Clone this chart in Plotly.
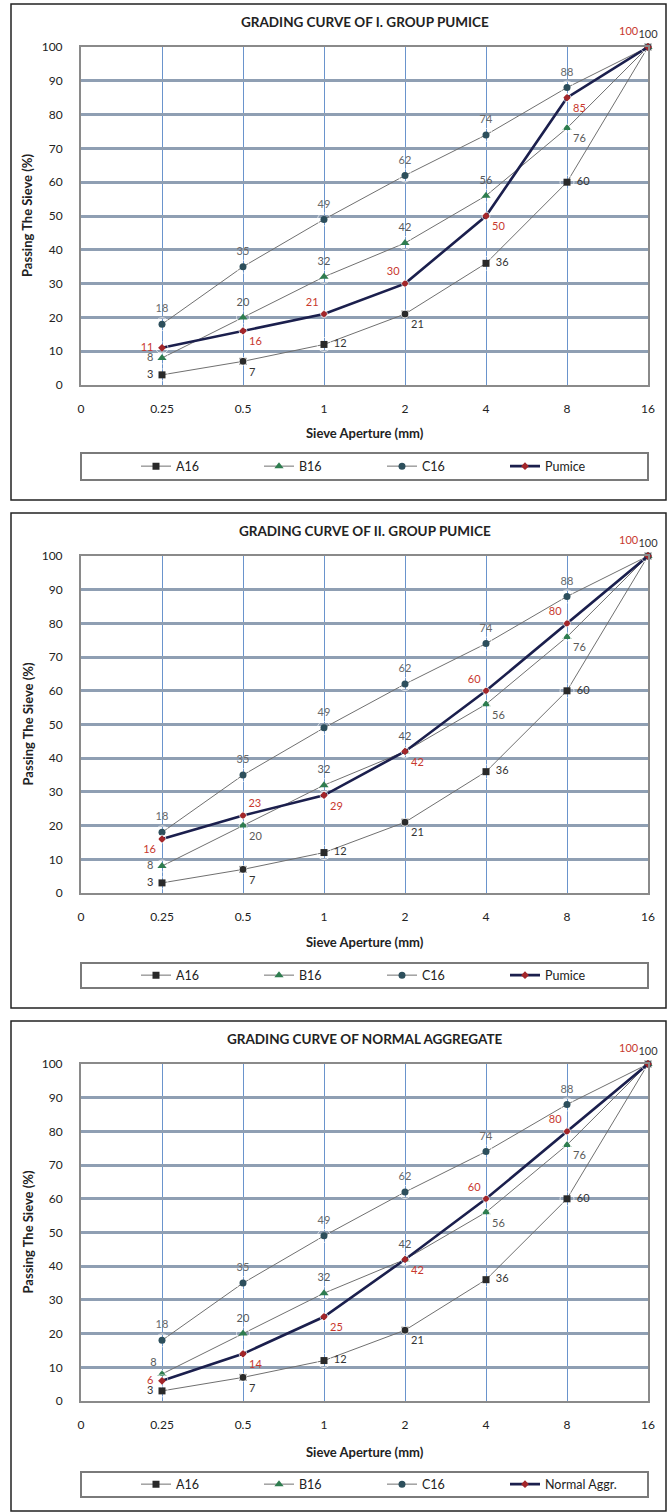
import plotly.graph_objects as go

W, H = 667, 1512

# ---------------- data ----------------
axis_labels = ["0", "0.25", "0.5", "1", "2", "4", "8", "16"]
sieves = ["0.25", "0.5", "1", "2", "4", "8", "16"]
a16 = [3, 7, 12, 21, 36, 60, 100]
b16 = [8, 20, 32, 42, 56, 76, 100]
c16 = [18, 35, 49, 62, 74, 88, 100]
pumice_1 = [11, 16, 21, 30, 50, 85, 100]
pumice_2 = [16, 23, 29, 42, 60, 80, 100]
normal_aggr = [6, 14, 25, 42, 60, 80, 100]
titles = ["GRADING CURVE OF I. GROUP PUMICE",
          "GRADING CURVE OF II. GROUP PUMICE",
          "GRADING CURVE OF NORMAL AGGREGATE"]
sample_names = ["Pumice", "Pumice", "Normal Aggr."]
samples = [pumice_1, pumice_2, normal_aggr]

# label placement (style only)
pos_a = ["middle left", "bottom right", "middle right", "bottom right", "middle right", "middle right", "top center"]
pos_c = ["top center"] * 7
pos_b = [
    ["middle left", "top center", "top center", "top center", "top center", "bottom right", "top center"],
    ["middle left", "bottom right", "top center", "top center", "bottom right", "bottom right", "top center"],
    ["top left", "top center", "top center", "top center", "bottom right", "bottom right", "top center"],
]
pos_s = [
    ["middle left", "bottom right", "top left", "top left", "bottom right", "bottom right", "top left"],
    ["bottom left", "top right", "bottom right", "bottom right", "top left", "top left", "top left"],
    ["middle left", "bottom right", "bottom right", "bottom right", "top left", "top left", "top left"],
]
# invisible-marker size that sets the label offset for each position
offset_size = {"middle left": 12, "middle right": 14, "top center": 13,
               "bottom right": 8, "bottom left": 8, "top left": 7, "top right": 7}

# ---------------- layout geometry (pixels) ----------------
PX_L, PX_R = 81, 648
panels = [
    dict(top=47, bottom=385, title=22, xtitle=433, leg=(453, 480), border=(4, 500)),
    dict(top=556, bottom=893, title=531, xtitle=942, leg=(963, 988), border=(513, 1008)),
    dict(top=1064, bottom=1401, title=1039, xtitle=1452, leg=(1472, 1497), border=(1021, 1511)),
]

def px(x):
    return x / W

def py(y):
    return 1 - y / H

FONT = "Lato, Open Sans, sans-serif"
LINE_GRAY = "#707070"

fig = go.Figure()
shapes = []
annotations = []

for i, p in enumerate(panels):
    n = "" if i == 0 else str(i + 1)
    xa, ya = "x" + n, "y" + n
    leg = "legend" + n

    series = [
        ("A16", a16, dict(symbol="square", size=7, color="#2a2a2a"), dict(color=LINE_GRAY, width=1),
         pos_a, "#333333", [str(v) for v in a16]),
        ("B16", b16, dict(symbol="triangle-up", size=8, color="#2e7d4f"), dict(color=LINE_GRAY, width=1),
         pos_b[i], "#595959", [str(v) for v in b16[:-1]] + [""]),
        ("C16", c16, dict(symbol="circle", size=7, color="#2d4f5c"), dict(color=LINE_GRAY, width=1),
         pos_c, "#6a6a6a", [str(v) for v in c16[:-1]] + [""]),
        (sample_names[i], samples[i], dict(symbol="diamond", size=6, color="#a3262a"),
         dict(color="#1b1f4d", width=2.6), pos_s[i], "#c8392e", [str(v) for v in samples[i]]),
    ]
    for k, (name, vals, mk, ln, tpos, tcol, txt) in enumerate(series):
        fig.add_trace(go.Scatter(
            x=sieves, y=vals, name=name, mode="lines+markers",
            marker=mk, line=ln, xaxis=xa, yaxis=ya, legend=leg, cliponaxis=False,
        ))
        sizes = [offset_size[t] for t in tpos]
        if k == 0:
            sizes[-1] = 8
        if k == 3:
            sizes[-1] = 14
        fig.add_trace(go.Scatter(
            x=sieves, y=vals, mode="markers+text", text=txt, textposition=tpos,
            textfont=dict(family=FONT, size=11, color=tcol),
            marker=dict(size=sizes, color="rgba(0,0,0,0)"),
            xaxis=xa, yaxis=ya, showlegend=False, cliponaxis=False, hoverinfo="skip",
        ))

    dom_x = [px(PX_L), px(PX_R)]
    dom_y = [py(p["bottom"]), py(p["top"])]
    fig.layout["xaxis" + n] = dict(
        domain=dom_x, anchor=ya, type="category", categoryorder="array",
        categoryarray=axis_labels, range=[0, 7], tickvals=axis_labels, ticktext=axis_labels,
        showgrid=True, gridcolor="#6a94cc", gridwidth=1,
        showline=True, linecolor="#8a8a8a", linewidth=2, mirror=True,
        ticks="", ticklabelstandoff=12, zeroline=False, automargin=False,
        tickfont=dict(family=FONT, size=12, color="#222222"), fixedrange=True,
    )
    fig.layout["yaxis" + n] = dict(
        domain=dom_y, anchor=xa, range=[0, 100], dtick=10, tick0=0,
        showgrid=True, gridcolor="#8f9fb3", gridwidth=2.5,
        showline=True, linecolor="#8a8a8a", linewidth=2, mirror=True,
        ticks="", ticklabelstandoff=14, zeroline=False, automargin=False,
        tickfont=dict(family=FONT, size=12, color="#222222"), fixedrange=True,
    )
    fig.layout[leg] = dict(
        orientation="h", x=px(136), xanchor="left",
        y=py((p["leg"][0] + p["leg"][1]) / 2), yanchor="middle",
        entrywidth=78, entrywidthmode="pixels", itemwidth=30,
        bgcolor="rgba(0,0,0,0)", borderwidth=0,
        font=dict(family=FONT, size=12.5, color="#222222"),
    )
    # legend frame
    shapes.append(dict(type="rect", xref="paper", yref="paper",
                       x0=px(PX_L), x1=px(PX_R), y0=py(p["leg"][1]), y1=py(p["leg"][0]),
                       line=dict(color="#7a7a7a", width=2), fillcolor="rgba(0,0,0,0)"))
    # outer panel border
    shapes.append(dict(type="rect", xref="paper", yref="paper",
                       x0=px(11), x1=px(666), y0=py(p["border"][1]), y1=py(p["border"][0]),
                       line=dict(color="#222222", width=1.5), fillcolor="rgba(0,0,0,0)"))
    annotations.append(dict(text="<b>" + titles[i] + "</b>", xref="paper", yref="paper",
                            x=px((PX_L + PX_R) / 2), y=py(p["title"]), showarrow=False,
                            xanchor="center", yanchor="middle",
                            font=dict(family=FONT, size=13.5, color="#222222")))
    annotations.append(dict(text="<b>Sieve Aperture (mm)</b>", xref="paper", yref="paper",
                            x=px((PX_L + PX_R) / 2), y=py(p["xtitle"]), showarrow=False,
                            xanchor="center", yanchor="middle",
                            font=dict(family=FONT, size=13, color="#222222")))
    annotations.append(dict(text="<b>Passing The Sieve (%)</b>", xref="paper", yref="paper",
                            x=px(27), y=py((p["top"] + p["bottom"]) / 2), showarrow=False,
                            textangle=-90, xanchor="center", yanchor="middle",
                            font=dict(family=FONT, size=13, color="#222222")))

fig.update_layout(
    width=W, height=H, margin=dict(l=0, r=0, t=0, b=0, autoexpand=False),
    paper_bgcolor="white", plot_bgcolor="white",
    shapes=shapes, annotations=annotations, showlegend=True,
    font=dict(family=FONT), hovermode=False,
)

fig.write_html("out.html", config={"displayModeBar": False},
               post_script="document.body.style.margin='0px';document.body.style.overflow='hidden';")
